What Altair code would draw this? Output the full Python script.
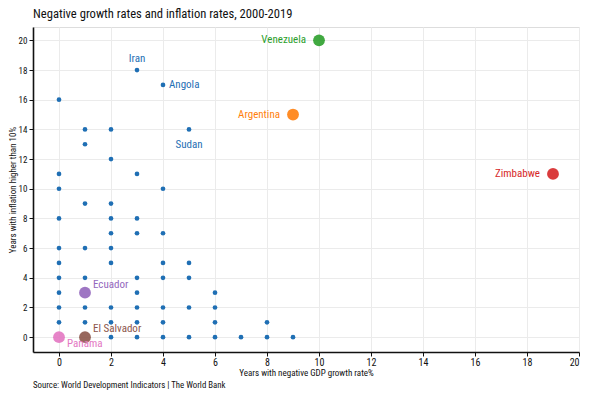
import altair as alt
import pandas as pd

FONT = "Roboto Condensed, Liberation Sans Narrow, DejaVu Sans Condensed, Roboto, sans-serif"

# blue (other countries) points
blue_x = [3, 4, 0, 1, 2, 5, 1, 2, 0, 3, 0, 4,
          1, 2, 0, 2, 3, 2, 3, 4, 0, 1, 2,
          0, 2, 4, 5, 0, 1, 3, 4, 5,
          0, 3, 6,
          0, 1, 2, 3, 4, 5, 6,
          0, 1, 2, 3, 4, 6, 8,
          2, 3, 4, 5, 6, 7, 8, 9]
blue_y = [18, 17, 16, 14, 14, 14, 13, 12, 11, 11, 10, 10,
          9, 9, 8, 8, 8, 7, 7, 7, 6, 6, 6,
          5, 5, 5, 5, 4, 4, 4, 4, 4,
          3, 3, 3,
          2, 2, 2, 2, 2, 2, 2,
          1, 1, 1, 1, 1, 1, 1,
          0, 0, 0, 0, 0, 0, 0, 0]

# labelled blue countries
blue_names = ["Iran", "Angola", "Sudan"]
blue_nx = [3, 4, 5]
blue_ny = [18, 17, 14]

# highlighted countries
hl_names = ["Venezuela", "Argentina", "Zimbabwe", "Ecuador", "El Salvador", "Panama"]
hl_x = [10, 9, 19, 1, 1, 0]
hl_y = [20, 15, 11, 3, 0, 0]
hl_colors = ["#2ca02c", "#ff7f0e", "#d62728", "#9467bd", "#8c564b", "#e377c2"]

BLUE = "#1f6fb4"

x_ticks = list(range(0, 21, 2))
y_ticks = list(range(0, 21, 2))

W, H = 546, 325

blue_df = pd.DataFrame({"x": blue_x, "y": blue_y})
bl_df = pd.DataFrame({"name": blue_names, "x": blue_nx, "y": blue_ny})
hl_df = pd.DataFrame({"name": hl_names, "x": hl_x, "y": hl_y, "color": hl_colors})

xs = alt.Scale(domain=[-1, 20], nice=False, zero=False)
ys = alt.Scale(domain=[-1, 20.9], nice=False, zero=False)

xaxis = alt.Axis(
    values=x_ticks, title="Years with negative GDP growth rate%",
    grid=True, gridColor="#ebebeb", domainColor="#111", domainWidth=1.6,
    tickColor="#111", tickSize=4, labelColor="#111", labelFont=FONT,
    labelFontSize=10, titleFont=FONT, titleFontSize=9, titleFontWeight="normal",
    titleColor="#111", labelPadding=1, titlePadding=1, labelOverlap=False)
yaxis = alt.Axis(
    values=y_ticks, tickCount=11, title="Years with inflation higher than 10%",
    grid=True, gridColor="#ebebeb", domainColor="#111", domainWidth=1.6,
    tickColor="#111", tickSize=4, labelColor="#111", labelFont=FONT,
    labelFontSize=9, titleFont=FONT, titleFontSize=9, titleFontWeight="normal",
    titleColor="#111", labelPadding=2, titlePadding=1, labelOverlap=False)

xenc = alt.X("x:Q", scale=xs, axis=xaxis)
yenc = alt.Y("y:Q", scale=ys, axis=yaxis)

blue_pts = alt.Chart(blue_df).mark_circle(size=22, color=BLUE, opacity=1).encode(x=xenc, y=yenc)

hl_pts = alt.Chart(hl_df).mark_circle(size=140, opacity=0.9).encode(
    x=xenc, y=yenc, color=alt.Color("color:N", scale=None))

def tlabel(df, **kw):
    return alt.Chart(df).mark_text(font=FONT, fontSize=11, **kw).encode(
        x=xenc, y=yenc, text="name:N")

iran = tlabel(bl_df[bl_df.name == "Iran"], color=BLUE, dy=-11, align="center")
angola = tlabel(bl_df[bl_df.name == "Angola"], color=BLUE, dx=6, align="left")
sudan = tlabel(bl_df[bl_df.name == "Sudan"], color=BLUE, dy=10, align="center", baseline="top")

left_names = hl_df[hl_df.name.isin(["Venezuela", "Argentina", "Zimbabwe"])]
left_lab = alt.Chart(left_names).mark_text(font=FONT, fontSize=11, dx=-13, align="right").encode(
    x=xenc, y=yenc, text="name:N", color=alt.Color("color:N", scale=None))
up_names = hl_df[hl_df.name.isin(["Ecuador", "El Salvador"])]
up_lab = alt.Chart(up_names).mark_text(font=FONT, fontSize=11, dx=8, dy=-8, align="left").encode(
    x=xenc, y=yenc, text="name:N", color=alt.Color("color:N", scale=None))
dn_names = hl_df[hl_df.name == "Panama"]
dn_lab = alt.Chart(dn_names).mark_text(font=FONT, fontSize=11, dx=8, dy=7, align="left").encode(
    x=xenc, y=yenc, text="name:N", color=alt.Color("color:N", scale=None))

source = alt.Chart(pd.DataFrame({"t": ["Source: World Development Indicators | The World Bank"]})).mark_text(
    font=FONT, fontSize=8.8, align="left", baseline="middle", color="#111").encode(
    x=alt.value(0), y=alt.value(H + 33), text="t:N")

chart = alt.layer(blue_pts, hl_pts, iran, angola, sudan, left_lab, up_lab, dn_lab, source).properties(
    width=W, height=H,
    title=alt.Title("Negative growth rates and inflation rates, 2000-2019", anchor="start",
                    frame="group", font=FONT, fontSize=12.6, fontWeight="normal",
                    color="#111", offset=6),
    autosize=alt.AutoSizeParams(type="none"),
    padding={"left": 25, "top": 19, "right": 7, "bottom": 44},
).configure_view(stroke=None).configure(background="white")

chart.save("out.html", embed_options={"renderer": "svg", "actions": False})
